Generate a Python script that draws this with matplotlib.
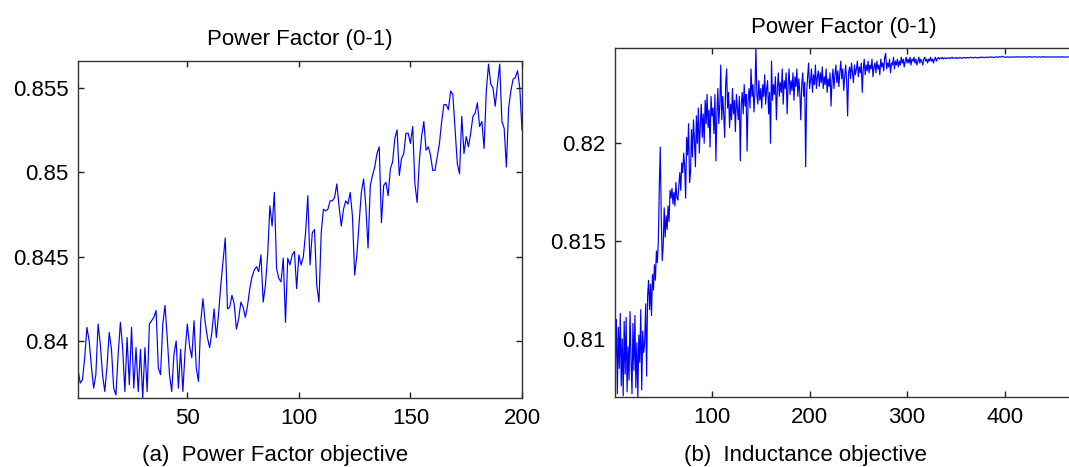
import numpy as np
import matplotlib
matplotlib.use('Agg')
import matplotlib.pyplot as plt

plt.rcParams['font.family'] = ['Liberation Sans', 'DejaVu Sans']

# (a) power factor objective, 200 generations
pf_a = [
    0.8383, 0.8375, 0.8377, 0.8390, 0.8408, 0.8400, 0.8385, 0.8372, 0.8380, 0.8410,
    0.8398, 0.8380, 0.8370, 0.8385, 0.8405, 0.8395, 0.8372, 0.8368, 0.8392, 0.8411,
    0.8396, 0.8370, 0.8402, 0.8374, 0.8408, 0.8372, 0.8396, 0.8370, 0.8395, 0.8366,
    0.8396, 0.8370, 0.8410, 0.8412, 0.8414, 0.8418, 0.8384, 0.8380, 0.8410, 0.8421,
    0.8402, 0.8380, 0.8370, 0.8392, 0.8400, 0.8372, 0.8395, 0.8370, 0.8394, 0.8410,
    0.8397, 0.8390, 0.8412, 0.8384, 0.8376, 0.8411, 0.8425, 0.8411, 0.8402, 0.8396,
    0.8405, 0.8419, 0.8402, 0.8416, 0.8433, 0.8447, 0.8461, 0.8419, 0.8420, 0.8427,
    0.8422, 0.8407, 0.8413, 0.8423, 0.8420, 0.8414, 0.8421, 0.8431, 0.8438, 0.8442,
    0.8444, 0.8441, 0.8451, 0.8423, 0.8433, 0.8451, 0.8480, 0.8468, 0.8488, 0.8443,
    0.8437, 0.8435, 0.8449, 0.8411, 0.8449, 0.8445, 0.8451, 0.8453, 0.8431, 0.8451,
    0.8445, 0.8450, 0.8464, 0.8486, 0.8445, 0.8464, 0.8466, 0.8433, 0.8423, 0.8464,
    0.8478, 0.8477, 0.8478, 0.8483, 0.8483, 0.8485, 0.8493, 0.8480, 0.8468, 0.8478,
    0.8483, 0.8481, 0.8488, 0.8474, 0.8439, 0.8451, 0.8470, 0.8488, 0.8496, 0.8480,
    0.8455, 0.8492, 0.8498, 0.8503, 0.8511, 0.8515, 0.8470, 0.8492, 0.8494, 0.8486,
    0.8502, 0.8506, 0.8520, 0.8525, 0.8498, 0.8508, 0.8511, 0.8523, 0.8523, 0.8517,
    0.8527, 0.8493, 0.8482, 0.8507, 0.8521, 0.8530, 0.8513, 0.8515, 0.8510, 0.8501,
    0.8501, 0.8509, 0.8517, 0.8530, 0.8540, 0.8540, 0.8537, 0.8548, 0.8546, 0.8525,
    0.8505, 0.8499, 0.8533, 0.8511, 0.8521, 0.8515, 0.8523, 0.8533, 0.8535, 0.8541,
    0.8527, 0.8530, 0.8514, 0.8548, 0.8564, 0.8552, 0.8550, 0.8539, 0.8552, 0.8564,
    0.8530, 0.8526, 0.8503, 0.8538, 0.8548, 0.8555, 0.8556, 0.8560, 0.8550, 0.8525,
]

# (b) inductance objective, power factor per generation
pf_b = [
    0.8088, 0.8110, 0.8072, 0.8106, 0.8085, 0.8113, 0.8076, 0.8100, 0.8071, 0.8109,
    0.8082, 0.8111, 0.8073, 0.8096, 0.8079, 0.8114, 0.8090, 0.8072, 0.8108, 0.8084,
    0.8112, 0.8075, 0.8098, 0.8070, 0.8102, 0.8088, 0.8115, 0.8074, 0.8104, 0.8093,
    0.8098, 0.8118, 0.8081, 0.8122, 0.8130, 0.8115, 0.8128, 0.8112, 0.8133, 0.8125,
    0.8138, 0.8130, 0.8145, 0.8139, 0.8150, 0.8178, 0.8198, 0.8162, 0.8140, 0.8148,
    0.8167, 0.8152, 0.8163, 0.8156, 0.8168, 0.8160, 0.8176, 0.8172, 0.8177, 0.8169,
    0.8175, 0.8168, 0.8180, 0.8172, 0.8171, 0.8178, 0.8185, 0.8176, 0.8190, 0.8185,
    0.8195, 0.8188, 0.8172, 0.8203, 0.8194, 0.8210, 0.8180, 0.8185, 0.8207, 0.8193,
    0.8212, 0.8202, 0.8188, 0.8214, 0.8200, 0.8218, 0.8195, 0.8209, 0.8220, 0.8203,
    0.8215, 0.8200, 0.8222, 0.8210, 0.8225, 0.8208, 0.8217, 0.8198, 0.8224, 0.8214,
    0.8218, 0.8205, 0.8225, 0.8191, 0.8215, 0.8228, 0.8210, 0.8220, 0.8240, 0.8212,
    0.8224, 0.8215, 0.8203, 0.8230, 0.8238, 0.8218, 0.8226, 0.8208, 0.8220, 0.8212,
    0.8228, 0.8215, 0.8222, 0.8206, 0.8225, 0.8218, 0.8212, 0.8224, 0.8191, 0.8220,
    0.8226, 0.8215, 0.8230, 0.8219, 0.8225, 0.8196, 0.8222, 0.8228, 0.8218, 0.8238,
    0.8224, 0.8230, 0.8216, 0.8226, 0.8249, 0.8225, 0.8220, 0.8232, 0.8222, 0.8228,
    0.8218, 0.8230, 0.8224, 0.8235, 0.8220, 0.8228, 0.8232, 0.8215, 0.8226, 0.8200,
    0.8242, 0.8222, 0.8230, 0.8225, 0.8234, 0.8212, 0.8228, 0.8236, 0.8224, 0.8231,
    0.8226, 0.8238, 0.8220, 0.8232, 0.8228, 0.8236, 0.8215, 0.8230, 0.8238, 0.8225,
    0.8232, 0.8227, 0.8236, 0.8222, 0.8234, 0.8229, 0.8238, 0.8224, 0.8233, 0.8226,
    0.8212, 0.8230, 0.8236, 0.8224, 0.8231, 0.8188, 0.8226, 0.8234, 0.8241, 0.8228,
    0.8232, 0.8238, 0.8226, 0.8235, 0.8230, 0.8240, 0.8228, 0.8234, 0.8237, 0.8229,
    0.8236, 0.8231, 0.8239, 0.8228, 0.8234, 0.8230, 0.8238, 0.8226, 0.8233, 0.8229,
    0.8236, 0.8219, 0.8232, 0.8238, 0.8228, 0.8235, 0.8240, 0.8231, 0.8237, 0.8229,
    0.8236, 0.8242, 0.8233, 0.8238, 0.8227, 0.8234, 0.8240, 0.8232, 0.8214, 0.8236,
    0.8239, 0.8233, 0.8241, 0.8236, 0.8231, 0.8240, 0.8235, 0.8238, 0.8242, 0.8234,
    0.8239, 0.8236, 0.8241, 0.8226, 0.8238, 0.8243, 0.8235, 0.8240, 0.8237, 0.8242,
    0.8236, 0.8240, 0.8238, 0.8243, 0.8234, 0.8239, 0.8241, 0.8236, 0.8242, 0.8238,
    0.8240, 0.8235, 0.8243, 0.8239, 0.8241, 0.8237, 0.8244, 0.8246, 0.8238, 0.8241,
    0.8239, 0.8243, 0.8236, 0.8241, 0.8240, 0.8244, 0.8238, 0.8242, 0.8240, 0.8243,
    0.8239, 0.8242, 0.8240, 0.8244, 0.8241, 0.8243, 0.8239, 0.8242, 0.8244, 0.8241,
    0.8243, 0.8241, 0.8244, 0.8240, 0.8243, 0.8242, 0.8244, 0.8241, 0.8243, 0.8240,
    0.8242, 0.8244, 0.8241, 0.8243, 0.8242, 0.8240, 0.8243, 0.8244, 0.8242, 0.8243,
    0.8241, 0.8243, 0.8242, 0.8244, 0.8242, 0.8243, 0.8241, 0.8243, 0.8244, 0.8242,
    0.82432, 0.82438, 0.82430, 0.82436, 0.82433, 0.82439, 0.82431, 0.82435, 0.82437, 0.82432,
    0.82436, 0.82434, 0.82438, 0.82433, 0.82436, 0.82440, 0.82434, 0.82437, 0.82435, 0.82438,
    0.82433, 0.82437, 0.82435, 0.82439, 0.82436, 0.82434, 0.82438, 0.82436, 0.82439, 0.82435,
    0.82437, 0.82439, 0.82436, 0.82438, 0.82440, 0.82437, 0.82439, 0.82436, 0.82438, 0.82440,
    0.82438, 0.82436, 0.82439, 0.82437, 0.82440, 0.82438, 0.82441, 0.82439, 0.82437, 0.82440,
    0.82439, 0.82441, 0.82438, 0.82440, 0.82442, 0.82439, 0.82441, 0.82440, 0.82438, 0.82441,
    0.82440, 0.82442, 0.82439, 0.82441, 0.82443, 0.82440, 0.82442, 0.82445, 0.82441, 0.82440,
    0.82441, 0.82440, 0.82442, 0.82441, 0.82439, 0.82441, 0.82442, 0.82440, 0.82441, 0.82442,
    0.82440, 0.82441, 0.82443, 0.82441, 0.82440, 0.82442, 0.82441, 0.82440, 0.82442, 0.82441,
    0.82442, 0.82440, 0.82441, 0.82442, 0.82441, 0.82443, 0.82441, 0.82440, 0.82441, 0.82442,
    0.82441, 0.82442, 0.82440, 0.82441, 0.82442, 0.82441, 0.82440, 0.82442, 0.82441, 0.82443,
    0.82441, 0.82440, 0.82442, 0.82441, 0.82442, 0.82440, 0.82441, 0.82442, 0.82441, 0.82440,
    0.82442, 0.82441, 0.82440, 0.82442, 0.82441, 0.82442, 0.82440, 0.82441, 0.82443, 0.82441,
    0.82440, 0.82442, 0.82441, 0.82440, 0.82442, 0.82441, 0.82442, 0.82441, 0.82440, 0.82442,
]

title = 'Power Factor (0-1)'
caption_a = '(a)  Power Factor objective'
caption_b = '(b)  Inductance objective'
xticks_a = [50, 100, 150, 200]
yticks_a = [0.84, 0.845, 0.85, 0.855]
xticks_b = [100, 200, 300, 400]
yticks_b = [0.81, 0.815, 0.82]

fs = 16
W, H = 1069, 467
fig = plt.figure(figsize=(W / 100, H / 100), dpi=100)


def px_axes(x0, x1, y0, y1):
    return fig.add_axes([x0 / W, 1 - y1 / H, (x1 - x0) / W, (y1 - y0) / H])


def style(ax, right=True):
    ax.tick_params(direction='in', length=4, width=1, top=True, right=right,
                   labelsize=fs, colors='#222222', labelcolor='black', pad=7)
    for s in ax.spines.values():
        s.set_linewidth(1.0)
        s.set_color('#333333')


ax1 = px_axes(78, 522, 60.7, 398.3)
ax1.plot(np.arange(1, len(pf_a) + 1), pf_a, color='#0000ff', lw=0.85)
ax1.set_xlim(1, 200)
ax1.set_ylim(0.8366, 0.8566)
ax1.set_xticks(xticks_a)
ax1.set_yticks(yticks_a)
ax1.set_yticklabels(['0.84', '0.845', '0.85', '0.855'])
ax1.set_title(title, fontsize=fs, pad=11)
style(ax1)

ax2 = px_axes(615.4, 1073, 48, 397.3)
ax2.plot(np.arange(1, len(pf_b) + 1), pf_b, color='#0000ff', lw=0.85)
ax2.set_xlim(1, len(pf_b))
ax2.set_ylim(0.80702, 0.82487)
ax2.set_xticks(xticks_b)
ax2.set_yticks(yticks_b)
ax2.set_yticklabels(['0.81', '0.815', '0.82'])
ax2.set_title(title, fontsize=fs, pad=11)
style(ax2, right=False)

fig.text(275 / W, 1 - 456 / H, caption_a, ha='center', va='center', fontsize=fs)
fig.text(805 / W, 1 - 456 / H, caption_b, ha='center', va='center', fontsize=fs)

fig.savefig('out.png', dpi=100)
